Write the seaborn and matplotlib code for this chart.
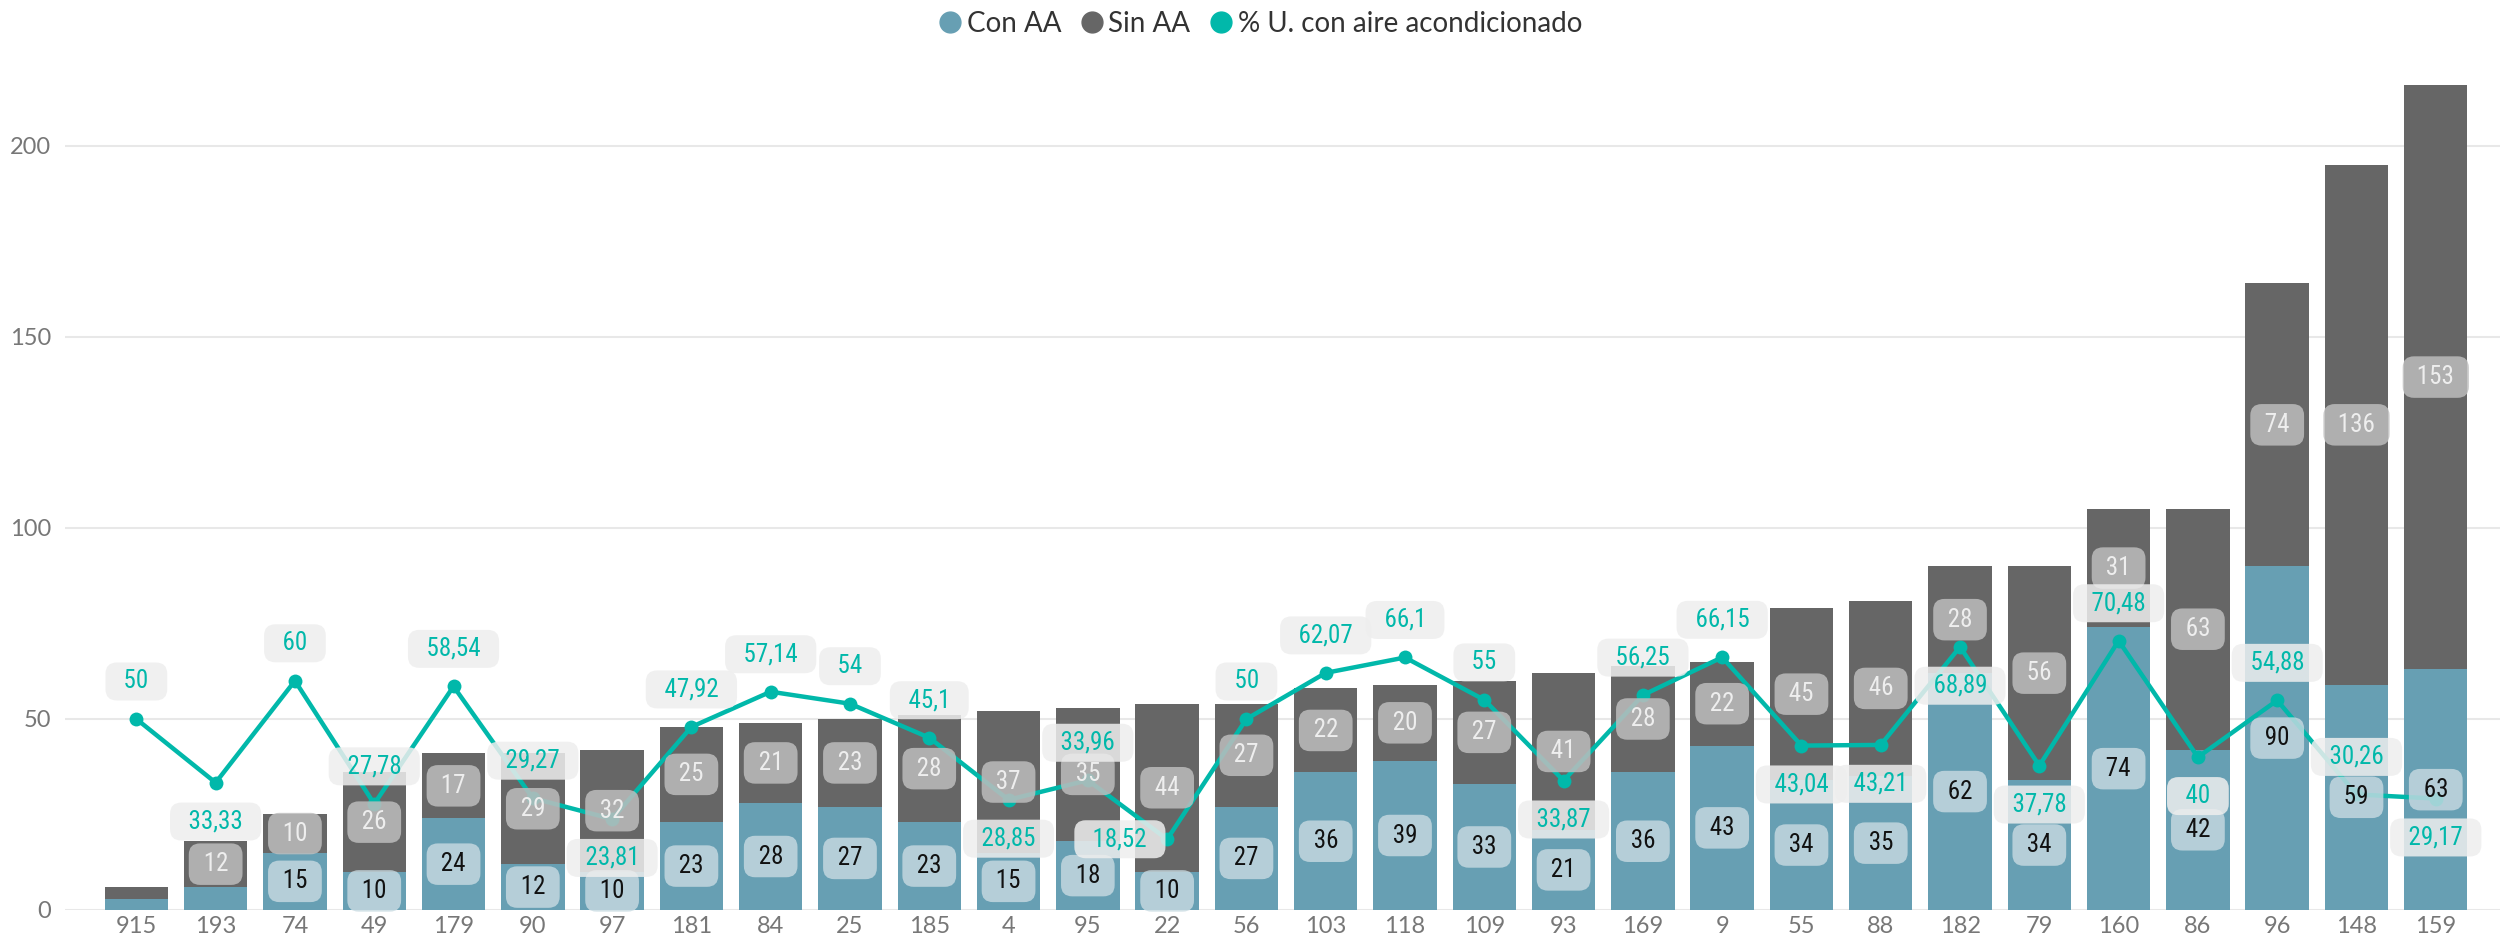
import numpy as np
import pandas as pd
import matplotlib
matplotlib.use("Agg")
import matplotlib.pyplot as plt
from matplotlib.lines import Line2D
from matplotlib import font_manager
import seaborn as sns

# datos
zonas = ['915', '193', '74', '49', '179', '90', '97', '181', '84', '25',
         '185', '4', '95', '22', '56', '103', '118', '109', '93', '169',
         '9', '55', '88', '182', '79', '160', '86', '96', '148', '159']
con_aa = [3, 6, 15, 10, 24, 12, 10, 23, 28, 27,
          23, 15, 18, 10, 27, 36, 39, 33, 21, 36,
          43, 34, 35, 62, 34, 74, 42, 90, 59, 63]
sin_aa = [3, 12, 10, 26, 17, 29, 32, 25, 21, 23,
          28, 37, 35, 44, 27, 22, 20, 27, 41, 28,
          22, 45, 46, 28, 56, 31, 63, 74, 136, 153]
pct_aa = [50, 33.33, 60, 27.78, 58.54, 29.27, 23.81, 47.92, 57.14, 54,
          45.1, 28.85, 33.96, 18.52, 50, 62.07, 66.1, 55, 33.87, 56.25,
          66.15, 43.04, 43.21, 68.89, 37.78, 70.48, 40, 54.88, 30.26, 29.17]

# donde va cada etiqueta del porcentaje (como en Power BI)
pct_pos = ['up', 'down', 'up', 'up', 'up', 'up', 'down', 'up', 'up', 'up',
           'up', 'down', 'up', 'left', 'up', 'up', 'up', 'up', 'down', 'up',
           'up', 'down', 'down', 'down', 'down', 'up', 'down', 'up', 'up', 'down']

c_con = '#679fb3'
c_sin = '#666666'
c_pct = '#01b8aa'

names = {f.name for f in font_manager.fontManager.ttflist}
lab_font = 'Roboto'
for cand in ['Roboto Condensed', 'Liberation Sans Narrow']:
    if cand in names:
        lab_font = cand
        break

df = pd.DataFrame({'zona': zonas, 'con': con_aa, 'sin': sin_aa, 'pct': pct_aa})
df['total'] = df['con'] + df['sin']

sns.set_style('white')
plt.rcParams['font.family'] = ['Lato', 'Open Sans', 'DejaVu Sans']

fig = plt.figure(figsize=(25.04, 9.42), dpi=100)
ax = fig.add_axes([65 / 2504, 32 / 942, (2500 - 65) / 2504, (910 - 60) / 942])

sns.barplot(data=df, x='zona', y='total', order=zonas, color=c_sin,
            saturation=1, width=0.8, linewidth=0, ax=ax, zorder=2)
sns.barplot(data=df, x='zona', y='con', order=zonas, color=c_con,
            saturation=1, width=0.8, linewidth=0, ax=ax, zorder=3)
df['xpos'] = np.arange(len(df))
sns.lineplot(data=df, x='xpos', y='pct', sort=False, color=c_pct, lw=3.2,
             marker='o', markersize=10, markeredgewidth=0, ax=ax, zorder=4)

lab_kw = dict(ha='center', va='center', fontsize=18, family=[lab_font, 'DejaVu Sans'])

# etiquetas de los segmentos
for i, r in df.iterrows():
    if r['con'] >= 10:
        ax.text(i, r['con'] / 2, f" {r['con']} ", color='#111111', zorder=6,
                bbox=dict(boxstyle='round,pad=0.35,rounding_size=0.45', fc='#c9dbe2',
                          ec='none', alpha=0.8), **lab_kw)
    if r['sin'] >= 10:
        ax.text(i, r['con'] + r['sin'] / 2, f" {r['sin']} ", color='#eeeeee', zorder=6,
                bbox=dict(boxstyle='round,pad=0.35,rounding_size=0.45', fc='#bdbdbd',
                          ec='none', alpha=0.85), **lab_kw)

# etiquetas del porcentaje
for i, r in df.iterrows():
    txt = f"{r['pct']:g}".replace('.', ',')
    p = pct_pos[i]
    off = {'up': (0, 27), 'down': (0, -28), 'left': (-34, 0)}[p]
    ax.annotate(f"  {txt}  ", (i, r['pct']), xytext=off, textcoords='offset points',
                color=c_pct, zorder=7,
                bbox=dict(boxstyle='round,pad=0.28,rounding_size=0.45', fc='#eeeeee',
                          ec='none', alpha=0.85), **lab_kw)

ax.set_xlim(-0.9, 29.81)
ax.set_ylim(0, 222.5)
ax.set_yticks([0, 50, 100, 150, 200])
ax.yaxis.grid(True, color='#e8e8e8', lw=1.5, zorder=0)
ax.set_axisbelow(True)
for s in ax.spines.values():
    s.set_visible(False)
ax.tick_params(axis='both', length=0, labelsize=17, labelcolor='#777777')
ax.tick_params(axis='x', pad=4)
ax.tick_params(axis='y', pad=10)
ax.set_xlabel('')
ax.set_ylabel('')
if ax.get_legend():
    ax.get_legend().remove()

handles = [Line2D([], [], marker='o', ls='none', color=c, markersize=15)
           for c in [c_con, c_sin, c_pct]]
fig.legend(handles, ['Con AA', 'Sin AA', '% U. con aire acondicionado'],
           loc='center', bbox_to_anchor=(0.5, 1 - 24 / 942), ncol=3, frameon=False,
           fontsize=20, handletextpad=-0.4, columnspacing=0.1, labelcolor='#333333')

fig.savefig('out.png', dpi=100)
